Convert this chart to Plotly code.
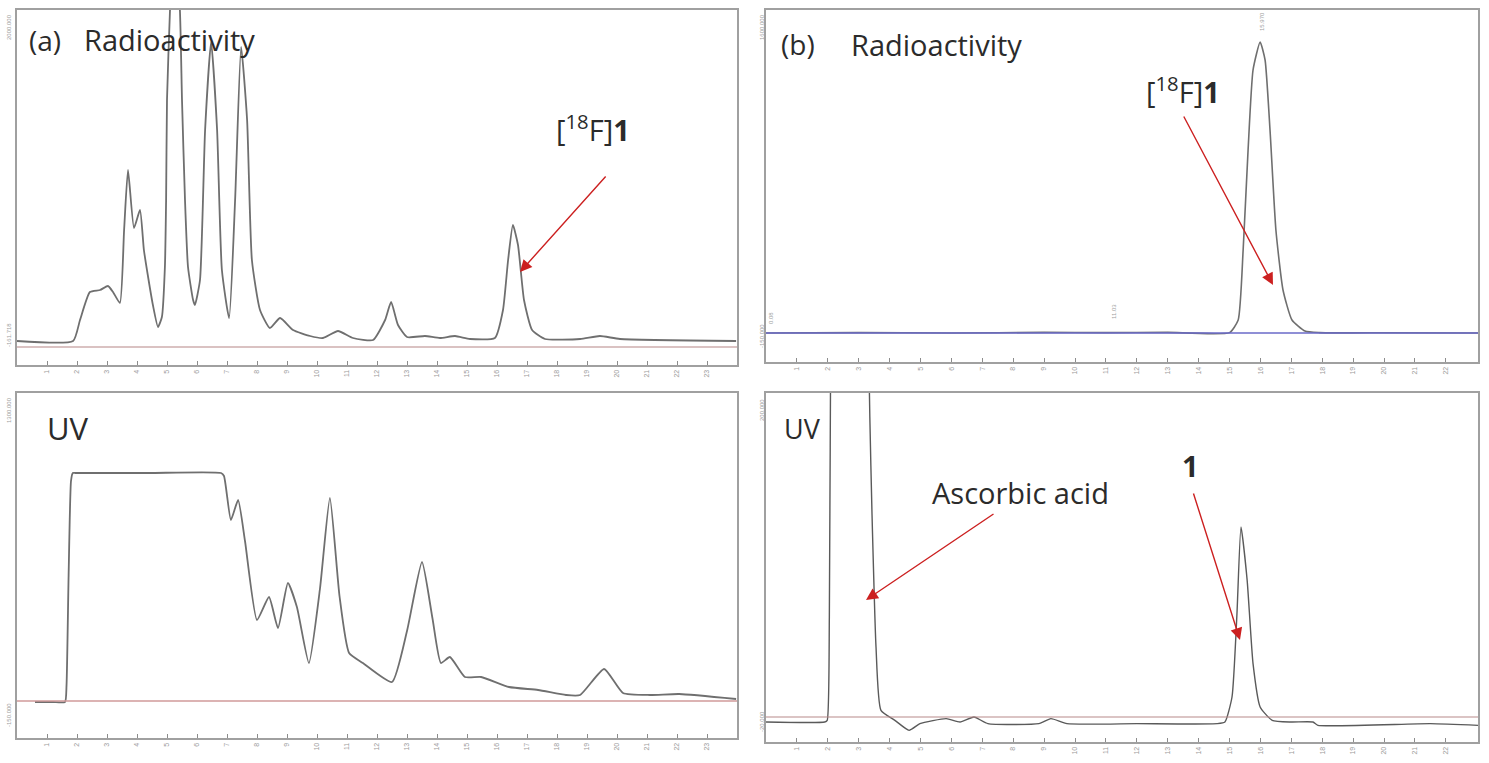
import plotly.graph_objects as go

W, H = 1489, 763

# ---------------- data (retention time in min, detector signal) ----------------
# (a) radioactivity trace
a_rad_t = [0, 1.87, 2.1, 2.43, 2.77, 3.03, 3.2, 3.43, 3.57, 3.7, 3.9, 4.1, 4.23, 4.37, 4.53,
           4.7, 4.83, 4.93, 4.97, 5.0, 5.1, 5.23, 5.43, 5.5, 5.6, 5.7, 5.87, 5.93, 6.1, 6.27,
           6.47, 6.67, 6.83, 7.07, 7.27, 7.47, 7.67, 7.83, 8.1, 8.43, 8.77, 9.2, 9.77, 10.2,
           10.7, 11.2, 11.87, 12.27, 12.47, 12.7, 13.0, 13.6, 14.1, 14.6, 15.1, 15.93, 16.2,
           16.37, 16.53, 16.7, 16.9, 17.17, 17.6, 18.77, 19.43, 20.1, 23.97]
a_rad_v = [36, 36, 162, 330, 342, 366, 330, 264, 702, 1062, 714, 822, 582, 420, 252,
           120, 180, 480, 882, 1482, 2022, 2500, 2022, 1482, 882, 480, 282, 252, 402, 1302,
           1830, 1302, 462, 174, 882, 1800, 1362, 522, 222, 114, 174, 102, 66, 54,
           96, 54, 42, 162, 270, 132, 60, 66, 54, 66, 48, 54, 222,
           522, 732, 612, 282, 102, 48, 48, 66, 48, 36]

# (a) UV trace
a_uv_t = [0.6, 1.2, 1.6, 1.65, 1.72, 1.8, 1.86, 1.95, 4.4, 6.8, 6.9, 7.13, 7.37, 7.6, 8.0,
          8.4, 8.7, 9.03, 9.33, 9.73, 10.1, 10.43, 10.75, 11.07, 11.53, 12.5, 13.0, 13.5,
          13.85, 14.13, 14.43, 14.93, 15.47, 16.4, 17.37, 18.3, 18.77, 19.57, 20.2, 21.1,
          22.07, 23.97]
a_uv_v = [-4, -4, -4, 60, 500, 880, 912, 912, 912, 912, 900, 724, 804, 640, 324,
          416, 292, 472, 376, 152, 450, 812, 420, 192, 152, 76, 280, 556,
          330, 152, 176, 96, 96, 56, 44, 24, 24, 128, 32, 24,
          28, 8]

# (b) radioactivity trace
b_rad_t = [0, 3.0, 6.0, 9.0, 11.0, 13.0, 15.0, 15.28, 15.44, 15.6, 15.76, 15.99, 16.15, 16.31,
           16.5, 16.73, 17.02, 17.44, 17.9, 20.0, 23.04]
b_rad_v = [0, 2, 0, 3, 2, 3, 2, 65, 415, 915, 1315, 1455, 1365, 1015,
           515, 215, 65, 10, 2, 1, 0]

# (b) UV trace
b_uv_t = [0, 1.9, 1.98, 2.05, 2.1, 2.7, 3.3, 3.36, 3.43, 3.56, 3.72, 4.17, 4.63, 4.98, 5.83,
          6.28, 6.73, 7.18, 8.83, 9.22, 9.74, 12.0, 14.6, 14.85, 15.08, 15.24, 15.37, 15.57,
          15.76, 15.99, 16.38, 17.0, 17.7, 17.86, 21.5, 23.04]
b_uv_v = [-3, -3, -2, 60, 250, 1500, 250, 180, 122, 42, 4, -2, -8, -4, -1,
          -3, 0, -4, -4, -1, -4, -4, -4, -3, 12, 62, 114, 82,
          32, 6, -2, -3, -3, -5, -4, -5]

# reference baselines drawn by the instrument software
a_rad_base = 0
a_uv_base = 0
b_rad_base = 0
b_uv_base = 0

ticks_a = list(range(1, 24))
ticks_b = list(range(1, 23))

# ---------------- layout helpers (pixel -> paper) ----------------
def px(p):
    return p / W

def py(p):
    return 1 - p / H

fig = go.Figure()

curve = dict(color="#6f6f6f", width=1.8, shape="spline", smoothing=0.5)
fig.add_trace(go.Scatter(x=a_rad_t, y=a_rad_v, mode="lines", line=curve, xaxis="x", yaxis="y", hoverinfo="skip"))
fig.add_trace(go.Scatter(x=a_uv_t, y=a_uv_v, mode="lines", line=curve, xaxis="x2", yaxis="y2", hoverinfo="skip"))
fig.add_trace(go.Scatter(x=b_rad_t, y=b_rad_v, mode="lines", line=dict(curve, width=1.6), xaxis="x3", yaxis="y3", hoverinfo="skip"))
fig.add_trace(go.Scatter(x=b_uv_t, y=b_uv_v, mode="lines", line=dict(curve, color="#5a5a5a", width=1.4), xaxis="x4", yaxis="y4", hoverinfo="skip"))

box = dict(showline=True, mirror=True, linecolor="#a0a0a0", linewidth=2,
           showgrid=False, zeroline=False, fixedrange=True)
xbase = dict(box, ticks="inside", ticklen=4, tickwidth=1, tickcolor="#8c8c8c",
             tickangle=-90, tickfont=dict(size=7, color="#9a9a9a", family="Liberation Sans"))
ybase = dict(box, ticks="", showticklabels=False)

fig.update_layout(
    width=W, height=H,
    margin=dict(l=0, r=0, t=0, b=0),
    paper_bgcolor="white", plot_bgcolor="white",
    showlegend=False,
    xaxis=dict(xbase, domain=[px(17), px(737)], range=[0, 24], tickvals=ticks_a, anchor="y"),
    yaxis=dict(ybase, domain=[py(365), py(10)], range=[-108, 2022], anchor="x"),
    xaxis2=dict(xbase, domain=[px(17), px(737)], range=[0, 24], tickvals=ticks_a, anchor="y2"),
    yaxis2=dict(ybase, domain=[py(738), py(393)], range=[-148, 1232], anchor="x2"),
    xaxis3=dict(xbase, domain=[px(766), px(1478)], range=[0, 23.04], tickvals=ticks_b, anchor="y3"),
    yaxis3=dict(ybase, domain=[py(362), py(10)], range=[-145, 1615], anchor="x3"),
    xaxis4=dict(xbase, domain=[px(766), px(1478)], range=[0, 23.04], tickvals=ticks_b, anchor="y4"),
    yaxis4=dict(ybase, domain=[py(742), py(393)], range=[-15, 194.4], anchor="x4"),
)

# baselines
fig.add_shape(type="line", xref="x", yref="y", x0=0, x1=24, y0=a_rad_base, y1=a_rad_base,
              line=dict(color="#b58585", width=1.2))
fig.add_shape(type="line", xref="x2", yref="y2", x0=0, x1=24, y0=a_uv_base, y1=a_uv_base,
              line=dict(color="#d09a9a", width=1.4))
fig.add_shape(type="line", xref="x3", yref="y3", x0=0, x1=23.04, y0=b_rad_base, y1=b_rad_base,
              line=dict(color="#6a6ac8", width=1.5))
fig.add_shape(type="line", xref="x4", yref="y4", x0=0, x1=23.04, y0=b_uv_base, y1=b_uv_base,
              line=dict(color="#b88a8a", width=1.2))

FONT = "Open Sans"
TXT = "#2b2b2b"

def label(text, x, y, size=29, anchor="left"):
    fig.add_annotation(xref="paper", yref="paper", x=px(x), y=py(y), text=text,
                       showarrow=False, xanchor=anchor, yanchor="middle",
                       font=dict(family=FONT, size=size, color=TXT))

label("(a)", 27, 40, size=28)
label("Radioactivity", 82, 40)
label("(b)", 779, 44, size=28)
label("Radioactivity", 849, 44)
label("UV", 45, 428, size=31)
label("UV", 782, 428, size=27)
label("[<sup>18</sup>F]<b>1</b>", 554, 128)
label("[<sup>18</sup>F]<b>1</b>", 1144, 90)
label("Ascorbic acid", 930, 492)
label("<b>1</b>", 1180, 465)

RED = "#cc2020"

def arrow(x_tail, y_tail, x_head, y_head):
    fig.add_annotation(xref="paper", yref="paper", x=px(x_head), y=py(y_head),
                       ax=x_tail - x_head, ay=y_tail - y_head, axref="pixel", ayref="pixel",
                       text="", showarrow=True, arrowhead=2, arrowsize=1.7,
                       arrowwidth=1.4, arrowcolor=RED, standoff=0)

arrow(607, 175, 520, 272)
arrow(1183, 115, 1273, 285)
arrow(995, 513, 866, 600)
arrow(1193, 492, 1240, 640)

# tiny rotated instrument labels (axis extremes and peak times)
def tiny(text, x, y):
    fig.add_annotation(xref="paper", yref="paper", x=px(x), y=py(y), text=text,
                       showarrow=False, textangle=-90, xanchor="center", yanchor="middle",
                       font=dict(family="Liberation Sans", size=6, color="#a0a0a0"))

tiny("2000.000", 9, 27)
tiny("-161.718", 9, 335)
tiny("1600.000", 762, 27)
tiny("-150.000", 762, 336)
tiny("1300.000", 9, 410)
tiny("-150.000", 9, 715)
tiny("200.000", 762, 410)
tiny("-20.000", 762, 722)
tiny("0.08", 771, 318)
tiny("11.03", 1114, 312)
tiny("15.970", 1262, 22)

fig.write_html("out.html")
